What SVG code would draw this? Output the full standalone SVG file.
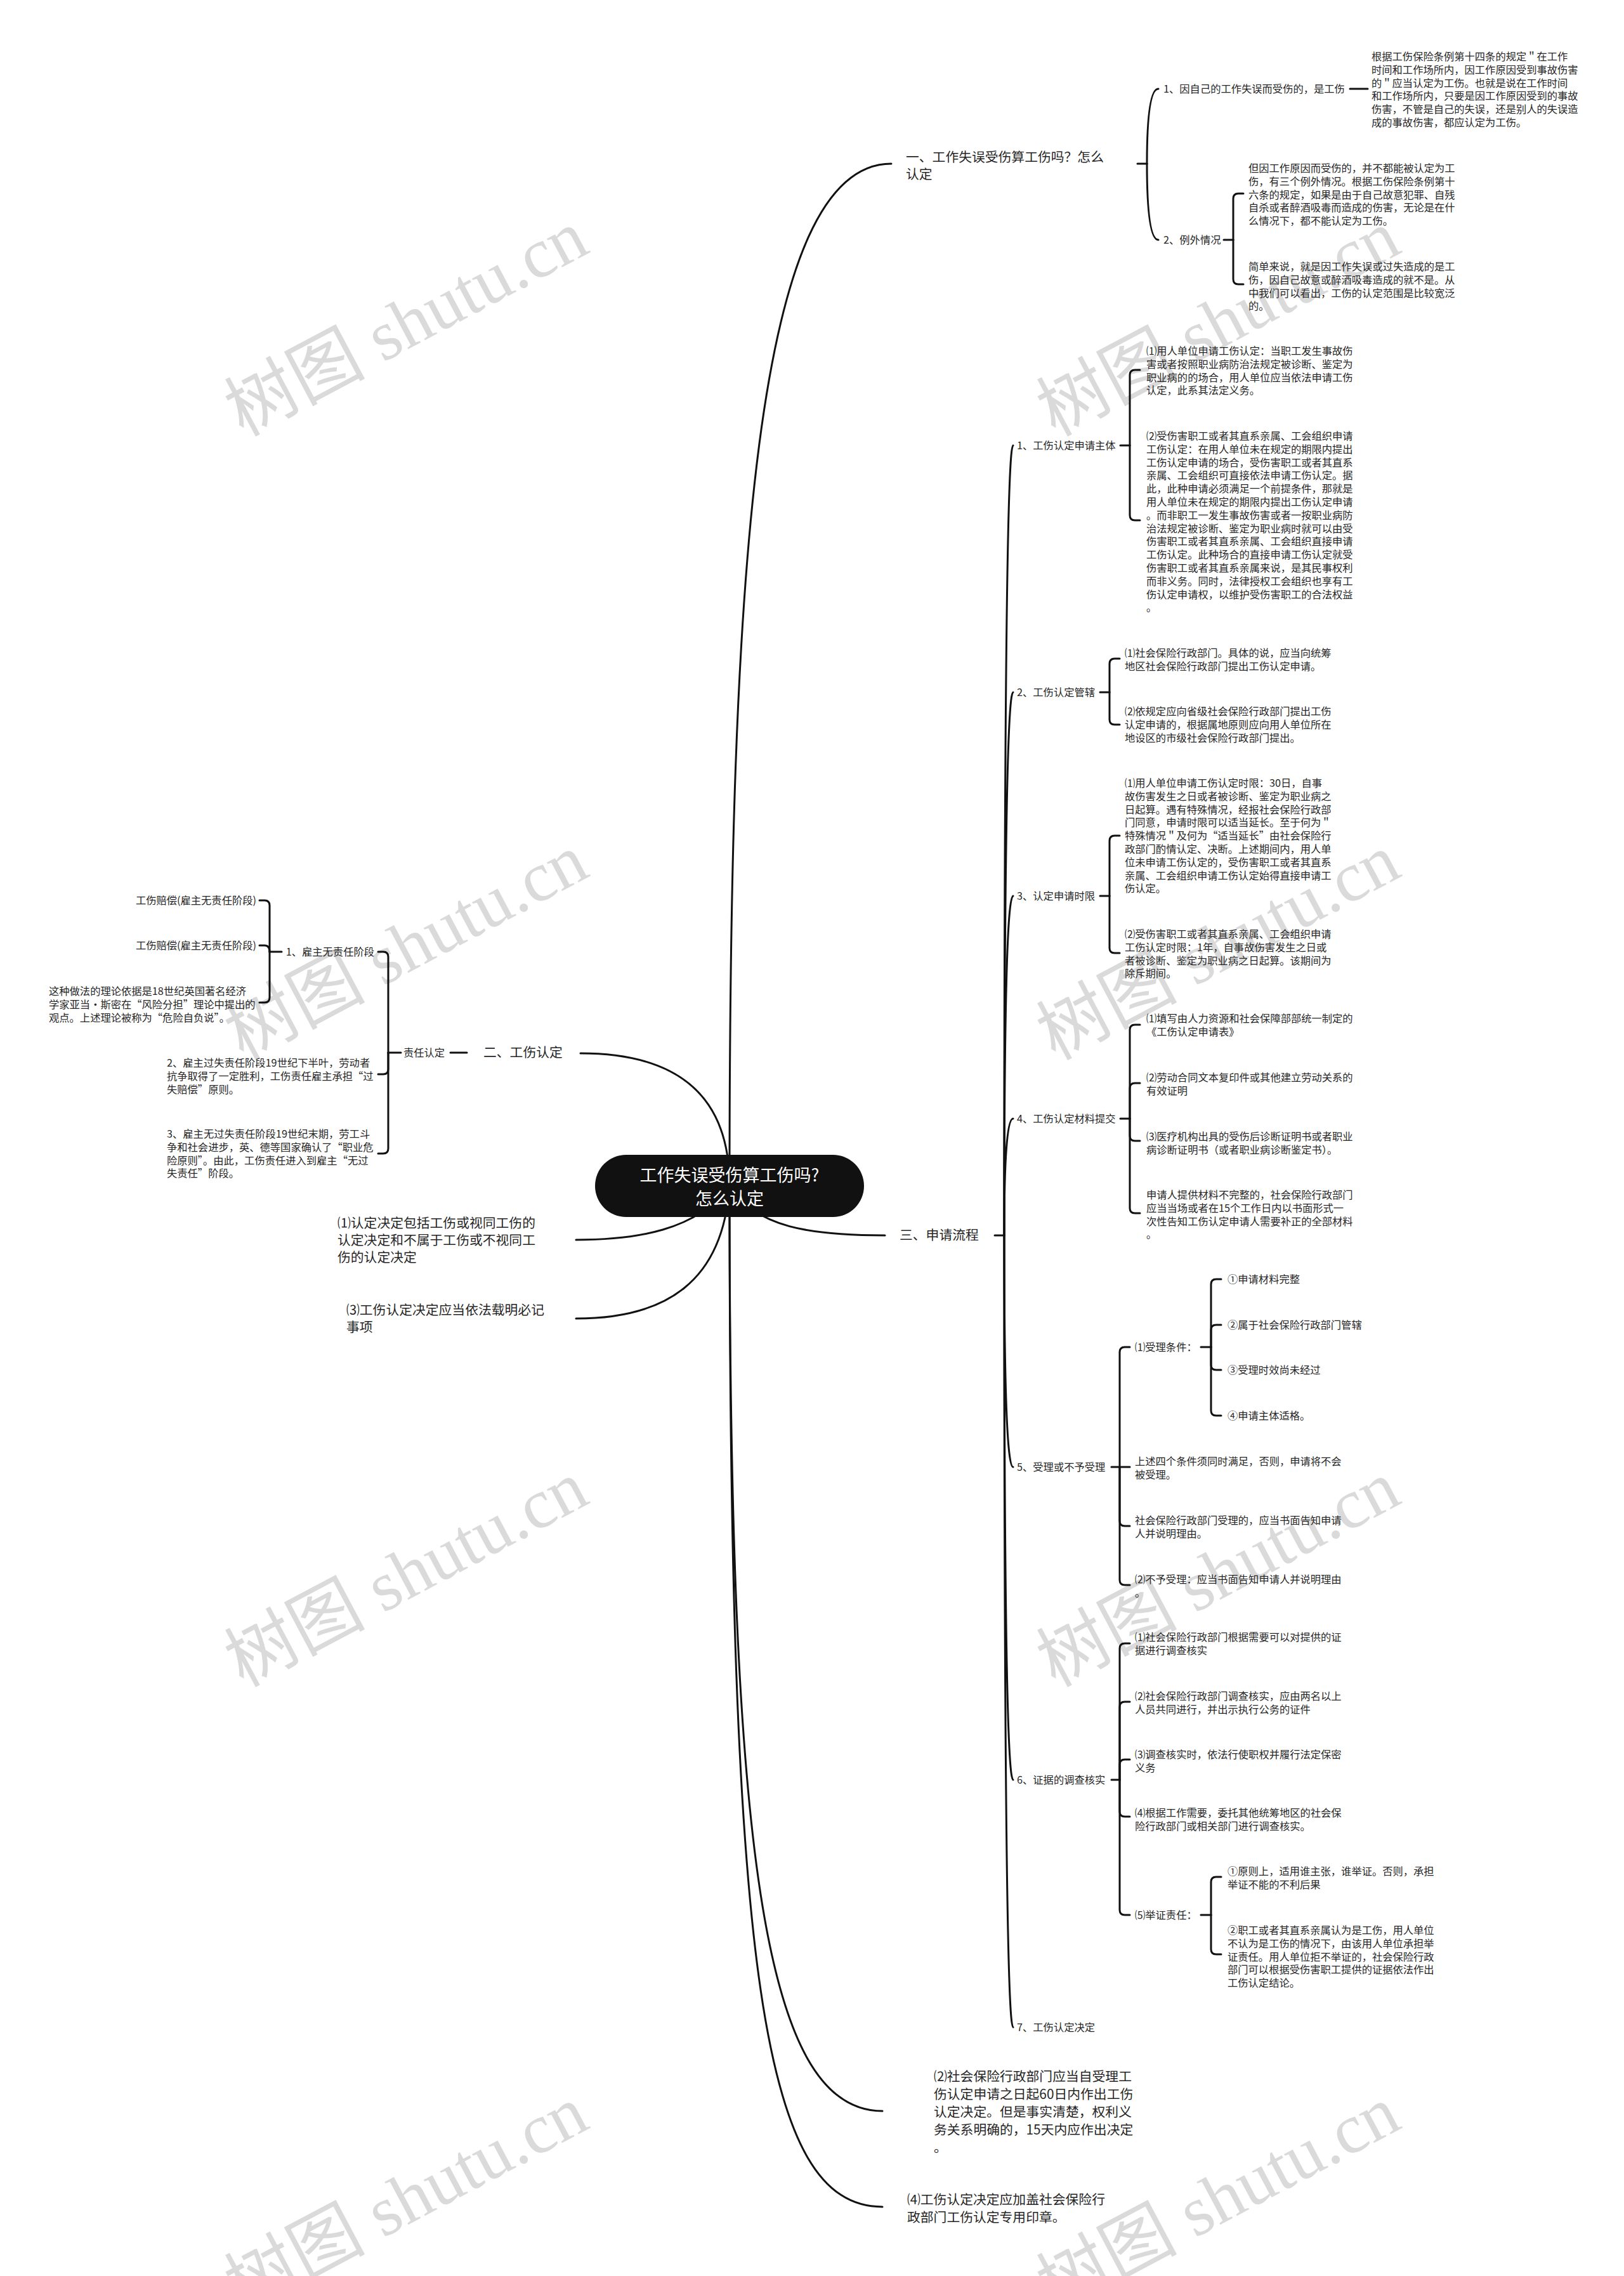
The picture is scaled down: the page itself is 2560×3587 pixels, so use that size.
<svg xmlns="http://www.w3.org/2000/svg" width="2560" height="3587" viewBox="0 0 2560 3587">
<style>
text{font-family:"Noto Sans CJK SC","Noto Sans",sans-serif;fill:#262626}
.s{font-size:16.3px}
.m{font-size:20.8px}
.ct{font-size:27px;fill:#fff}
.ln{fill:none;stroke:#111;stroke-width:3;stroke-linecap:round}
.wm{font-family:"Liberation Serif","Noto Sans CJK SC",serif;font-size:111px;fill:#dadada}
</style>
<rect width="2560" height="3587" fill="#fff"/>
<g id="watermarks">
<text class="wm" text-anchor="middle" transform="translate(640 509) rotate(-28)" y="38">树图 shutu.cn</text>
<text class="wm" text-anchor="middle" transform="translate(1920 509) rotate(-28)" y="38">树图 shutu.cn</text>
<text class="wm" text-anchor="middle" transform="translate(640 1492) rotate(-28)" y="38">树图 shutu.cn</text>
<text class="wm" text-anchor="middle" transform="translate(1920 1492) rotate(-28)" y="38">树图 shutu.cn</text>
<text class="wm" text-anchor="middle" transform="translate(640 2480) rotate(-28)" y="38">树图 shutu.cn</text>
<text class="wm" text-anchor="middle" transform="translate(1920 2480) rotate(-28)" y="38">树图 shutu.cn</text>
<text class="wm" text-anchor="middle" transform="translate(640 3465) rotate(-28)" y="38">树图 shutu.cn</text>
<text class="wm" text-anchor="middle" transform="translate(1920 3465) rotate(-28)" y="38">树图 shutu.cn</text>
</g>
<g id="connectors">
<path class="ln" d="M1150 1868 C1150 900 1190 258 1405 258"/>
<path class="ln" d="M1150 1868 C1150 1720 1060 1660 915 1660"/>
<path class="ln" d="M1150 1868 C1190 1935 1280 1947 1395 1947"/>
<path class="ln" d="M1150 1868 C1100 1940 1000 1954 908 1954"/>
<path class="ln" d="M1150 1868 C1140 2020 1050 2078 908 2078"/>
<path class="ln" d="M1150 1868 C1150 2900 1200 3327 1391 3327"/>
<path class="ln" d="M1150 1868 C1150 3100 1200 3478 1391 3478"/>
<path class="ln" d="M1793 258 H1808"/>
<path class="ln" d="M1808 258 Q1808 140 1826 140"/>
<path class="ln" d="M1808 258 Q1808 378 1826 378"/>
<path class="ln" d="M2128 140 H2156"/>
<path class="ln" d="M1929 378 H1944"/>
<path class="ln" d="M1944 378 V313 Q1944 305 1952 305 H1960"/>
<path class="ln" d="M1944 378 V440 Q1944 448 1952 448 H1960"/>
<path class="ln" d="M1568 1947 H1583"/>
<path class="ln" d="M1583 1947 Q1583 702 1597 702"/>
<path class="ln" d="M1583 1947 Q1583 1091 1597 1091"/>
<path class="ln" d="M1583 1947 Q1583 1412 1597 1412"/>
<path class="ln" d="M1583 1947 Q1583 1763 1597 1763"/>
<path class="ln" d="M1583 1947 Q1583 2312 1597 2312"/>
<path class="ln" d="M1583 1947 Q1583 2805 1597 2805"/>
<path class="ln" d="M1583 1947 Q1583 3195 1597 3195"/>
<path class="ln" d="M1766 702 H1781"/>
<path class="ln" d="M1781 702 V591 Q1781 583 1789 583 H1797"/>
<path class="ln" d="M1781 702 V812 Q1781 820 1789 820 H1797"/>
<path class="ln" d="M1734 1091 H1749"/>
<path class="ln" d="M1749 1091 V1046 Q1749 1038 1757 1038 H1765"/>
<path class="ln" d="M1749 1091 V1134 Q1749 1142 1757 1142 H1765"/>
<path class="ln" d="M1734 1412 H1749"/>
<path class="ln" d="M1749 1412 V1325 Q1749 1317 1757 1317 H1765"/>
<path class="ln" d="M1749 1412 V1494 Q1749 1502 1757 1502 H1765"/>
<path class="ln" d="M1766 1763 H1781"/>
<path class="ln" d="M1781 1763 V1623 Q1781 1615 1789 1615 H1797"/>
<path class="ln" d="M1781 1763 V1715 Q1781 1707 1789 1707 H1797"/>
<path class="ln" d="M1781 1763 V1790 Q1781 1798 1789 1798 H1797"/>
<path class="ln" d="M1781 1763 V1904 Q1781 1912 1789 1912 H1797"/>
<path class="ln" d="M1752 2312 H1765"/>
<path class="ln" d="M1765 2312 V2131 Q1765 2123 1773 2123 H1781"/>
<path class="ln" d="M1765 2312 H1781"/>
<path class="ln" d="M1765 2312 V2397 Q1765 2405 1773 2405 H1781"/>
<path class="ln" d="M1765 2312 V2490 Q1765 2498 1773 2498 H1781"/>
<path class="ln" d="M1893 2123 H1909"/>
<path class="ln" d="M1909 2123 V2024 Q1909 2016 1917 2016 H1925"/>
<path class="ln" d="M1909 2123 V2096 Q1909 2088 1917 2088 H1925"/>
<path class="ln" d="M1909 2123 V2151 Q1909 2159 1917 2159 H1925"/>
<path class="ln" d="M1909 2123 V2223 Q1909 2231 1917 2231 H1925"/>
<path class="ln" d="M1752 2805 H1765"/>
<path class="ln" d="M1765 2805 V2598 Q1765 2590 1773 2590 H1781"/>
<path class="ln" d="M1765 2805 V2690 Q1765 2682 1773 2682 H1781"/>
<path class="ln" d="M1765 2805 V2781 Q1765 2773 1773 2773 H1781"/>
<path class="ln" d="M1765 2805 V2855 Q1765 2863 1773 2863 H1781"/>
<path class="ln" d="M1765 2805 V3010 Q1765 3018 1773 3018 H1781"/>
<path class="ln" d="M1893 3018 H1909"/>
<path class="ln" d="M1909 3018 V2966 Q1909 2958 1917 2958 H1925"/>
<path class="ln" d="M1909 3018 V3072 Q1909 3080 1917 3080 H1925"/>
<path class="ln" d="M736 1659 H710"/>
<path class="ln" d="M632 1659 H612"/>
<path class="ln" d="M612 1659 V1508 Q612 1500 604 1500 H596"/>
<path class="ln" d="M612 1659 V1685 Q612 1693 604 1693 H596"/>
<path class="ln" d="M612 1659 V1810 Q612 1818 604 1818 H596"/>
<path class="ln" d="M444 1500 H425"/>
<path class="ln" d="M425 1500 V1427 Q425 1419 417 1419 H409"/>
<path class="ln" d="M425 1500 Q425 1490 417 1490 H409"/>
<path class="ln" d="M425 1500 V1572 Q425 1580 417 1580 H409"/>
</g>
<g id="center">
<rect x="938" y="1820" width="424" height="98" rx="49" fill="#111"/>
<text class="ct" x="1150" y="1862" text-anchor="middle">工作失误受伤算工伤吗?</text>
<text class="ct" x="1150" y="1899" text-anchor="middle">怎么认定</text>
</g>
<g id="n1">
<text class="m" x="1428" y="255">一、工作失误受伤算工伤吗？怎么<tspan x="1428" dy="27">认定</tspan></text>
</g>
<g id="n1-1"><text class="s" x="1834" y="146">1、因自己的工作失误而受伤的，是工伤</text></g>
<g id="n1-1-a">
<text class="s" x="2162" y="95">根据工伤保险条例第十四条的规定＂在工作<tspan x="2162" dy="20.8">时间和工作场所内，因工作原因受到事故伤害</tspan><tspan x="2162" dy="20.8">的＂应当认定为工伤。也就是说在工作时间</tspan><tspan x="2162" dy="20.8">和工作场所内，只要是因工作原因受到的事故</tspan><tspan x="2162" dy="20.8">伤害，不管是自己的失误，还是别人的失误造</tspan><tspan x="2162" dy="20.8">成的事故伤害，都应认定为工伤。</tspan></text>
</g>
<g id="n1-2"><text class="s" x="1834" y="384">2、例外情况</text></g>
<g id="n1-2-a">
<text class="s" x="1968" y="271">但因工作原因而受伤的，并不都能被认定为工<tspan x="1968" dy="20.8">伤，有三个例外情况。根据工伤保险条例第十</tspan><tspan x="1968" dy="20.8">六条的规定，如果是由于自己故意犯罪、自残</tspan><tspan x="1968" dy="20.8">自杀或者醉酒吸毒而造成的伤害，无论是在什</tspan><tspan x="1968" dy="20.8">么情况下，都不能认定为工伤。</tspan></text>
</g>
<g id="n1-2-b">
<text class="s" x="1968" y="426">简单来说，就是因工作失误或过失造成的是工<tspan x="1968" dy="20.8">伤，因自己故意或醉酒吸毒造成的就不是。从</tspan><tspan x="1968" dy="20.8">中我们可以看出，工伤的认定范围是比较宽泛</tspan><tspan x="1968" dy="20.8">的。</tspan></text>
</g>
<g id="n2"><text class="m" x="762" y="1666">二、工伤认定</text></g>
<g id="n2-1"><text class="s" x="636" y="1665">责任认定</text></g>
<g id="n2-1-1"><text class="s" x="590" y="1506" text-anchor="end">1、雇主无责任阶段</text></g>
<g id="n2-1-1-a"><text class="s" x="404" y="1425" text-anchor="end">工伤赔偿(雇主无责任阶段)</text></g>
<g id="n2-1-1-b"><text class="s" x="404" y="1496" text-anchor="end">工伤赔偿(雇主无责任阶段)</text></g>
<g id="n2-1-1-c">
<text class="s" x="77" y="1568">这种做法的理论依据是18世纪英国著名经济<tspan x="77" dy="20.8">学家亚当·斯密在“风险分担”理论中提出的</tspan><tspan x="77" dy="20.8">观点。上述理论被称为“危险自负说”。</tspan></text>
</g>
<g id="n2-1-2">
<text class="s" x="263" y="1681">2、雇主过失责任阶段19世纪下半叶，劳动者<tspan x="263" dy="20.8">抗争取得了一定胜利，工伤责任雇主承担“过</tspan><tspan x="263" dy="20.8">失赔偿”原则。</tspan></text>
</g>
<g id="n2-1-3">
<text class="s" x="263" y="1793">3、雇主无过失责任阶段19世纪末期，劳工斗<tspan x="263" dy="20.8">争和社会进步，英、德等国家确认了“职业危</tspan><tspan x="263" dy="20.8">险原则”。由此，工伤责任进入到雇主“无过</tspan><tspan x="263" dy="20.8">失责任”阶段。</tspan></text>
</g>
<g id="n4">
<text class="m" x="532" y="1935">⑴认定决定包括工伤或视同工伤的<tspan x="532" dy="27">认定决定和不属于工伤或不视同工</tspan><tspan x="532" dy="27">伤的认定决定</tspan></text>
</g>
<g id="n5">
<text class="m" x="546" y="2072">⑶工伤认定决定应当依法载明必记<tspan x="546" dy="27">事项</tspan></text>
</g>
<g id="n6">
<text class="m" x="1472" y="3280">⑵社会保险行政部门应当自受理工<tspan x="1472" dy="28">伤认定申请之日起60日内作出工伤</tspan><tspan x="1472" dy="28">认定决定。但是事实清楚，权利义</tspan><tspan x="1472" dy="28">务关系明确的，15天内应作出决定</tspan><tspan x="1472" dy="28">。</tspan></text>
</g>
<g id="n7">
<text class="m" x="1430" y="3474">⑷工伤认定决定应加盖社会保险行<tspan x="1430" dy="28">政部门工伤认定专用印章。</tspan></text>
</g>
<g id="n3"><text class="m" x="1418" y="1954">三、申请流程</text></g>
<g id="n3-1"><text class="s" x="1603" y="708">1、工伤认定申请主体</text></g>
<g id="n3-1-a">
<text class="s" x="1807" y="559">⑴用人单位申请工伤认定：当职工发生事故伤<tspan x="1807" dy="20.8">害或者按照职业病防治法规定被诊断、鉴定为</tspan><tspan x="1807" dy="20.8">职业病的的场合，用人单位应当依法申请工伤</tspan><tspan x="1807" dy="20.8">认定，此系其法定义务。</tspan></text>
</g>
<g id="n3-1-b">
<text class="s" x="1807" y="693">⑵受伤害职工或者其直系亲属、工会组织申请<tspan x="1807" dy="20.8">工伤认定：在用人单位未在规定的期限内提出</tspan><tspan x="1807" dy="20.8">工伤认定申请的场合，受伤害职工或者其直系</tspan><tspan x="1807" dy="20.8">亲属、工会组织可直接依法申请工伤认定。据</tspan><tspan x="1807" dy="20.8">此，此种申请必须满足一个前提条件，那就是</tspan><tspan x="1807" dy="20.8">用人单位未在规定的期限内提出工伤认定申请</tspan><tspan x="1807" dy="20.8">。而非职工一发生事故伤害或者一按职业病防</tspan><tspan x="1807" dy="20.8">治法规定被诊断、鉴定为职业病时就可以由受</tspan><tspan x="1807" dy="20.8">伤害职工或者其直系亲属、工会组织直接申请</tspan><tspan x="1807" dy="20.8">工伤认定。此种场合的直接申请工伤认定就受</tspan><tspan x="1807" dy="20.8">伤害职工或者其直系亲属来说，是其民事权利</tspan><tspan x="1807" dy="20.8">而非义务。同时，法律授权工会组织也享有工</tspan><tspan x="1807" dy="20.8">伤认定申请权，以维护受伤害职工的合法权益</tspan><tspan x="1807" dy="20.8">。</tspan></text>
</g>
<g id="n3-2"><text class="s" x="1603" y="1097">2、工伤认定管辖</text></g>
<g id="n3-2-a">
<text class="s" x="1773" y="1035">⑴社会保险行政部门。具体的说，应当向统筹<tspan x="1773" dy="20.8">地区社会保险行政部门提出工伤认定申请。</tspan></text>
</g>
<g id="n3-2-b">
<text class="s" x="1773" y="1127">⑵依规定应向省级社会保险行政部门提出工伤<tspan x="1773" dy="20.8">认定申请的，根据属地原则应向用人单位所在</tspan><tspan x="1773" dy="20.8">地设区的市级社会保险行政部门提出。</tspan></text>
</g>
<g id="n3-3"><text class="s" x="1603" y="1418">3、认定申请时限</text></g>
<g id="n3-3-a">
<text class="s" x="1773" y="1240">⑴用人单位申请工伤认定时限：30日，自事<tspan x="1773" dy="20.8">故伤害发生之日或者被诊断、鉴定为职业病之</tspan><tspan x="1773" dy="20.8">日起算。遇有特殊情况，经报社会保险行政部</tspan><tspan x="1773" dy="20.8">门同意，申请时限可以适当延长。至于何为＂</tspan><tspan x="1773" dy="20.8">特殊情况＂及何为“适当延长”由社会保险行</tspan><tspan x="1773" dy="20.8">政部门酌情认定、决断。上述期间内，用人单</tspan><tspan x="1773" dy="20.8">位未申请工伤认定的，受伤害职工或者其直系</tspan><tspan x="1773" dy="20.8">亲属、工会组织申请工伤认定始得直接申请工</tspan><tspan x="1773" dy="20.8">伤认定。</tspan></text>
</g>
<g id="n3-3-b">
<text class="s" x="1773" y="1478">⑵受伤害职工或者其直系亲属、工会组织申请<tspan x="1773" dy="20.8">工伤认定时限：1年，自事故伤害发生之日或</tspan><tspan x="1773" dy="20.8">者被诊断、鉴定为职业病之日起算。该期间为</tspan><tspan x="1773" dy="20.8">除斥期间。</tspan></text>
</g>
<g id="n3-4"><text class="s" x="1603" y="1769">4、工伤认定材料提交</text></g>
<g id="n3-4-a"><text class="s" x="1807" y="1611">⑴填写由人力资源和社会保障部部统一制定的<tspan x="1807" dy="20.8">《工伤认定申请表》</tspan></text></g>
<g id="n3-4-b"><text class="s" x="1807" y="1704">⑵劳动合同文本复印件或其他建立劳动关系的<tspan x="1807" dy="20.8">有效证明</tspan></text></g>
<g id="n3-4-c"><text class="s" x="1807" y="1797">⑶医疗机构出具的受伤后诊断证明书或者职业<tspan x="1807" dy="20.8">病诊断证明书（或者职业病诊断鉴定书）。</tspan></text></g>
<g id="n3-4-d"><text class="s" x="1807" y="1889">申请人提供材料不完整的，社会保险行政部门<tspan x="1807" dy="20.8">应当当场或者在15个工作日内以书面形式一</tspan><tspan x="1807" dy="20.8">次性告知工伤认定申请人需要补正的全部材料</tspan><tspan x="1807" dy="20.8">。</tspan></text></g>
<g id="n3-5"><text class="s" x="1603" y="2318">5、受理或不予受理</text></g>
<g id="n3-5-a"><text class="s" x="1789" y="2129">⑴受理条件：</text></g>
<g id="n3-5-a1"><text class="s" x="1935" y="2022">①申请材料完整</text></g>
<g id="n3-5-a2"><text class="s" x="1935" y="2094">②属于社会保险行政部门管辖</text></g>
<g id="n3-5-a3"><text class="s" x="1935" y="2165">③受理时效尚未经过</text></g>
<g id="n3-5-a4"><text class="s" x="1935" y="2237">④申请主体适格。</text></g>
<g id="n3-5-b"><text class="s" x="1789" y="2309">上述四个条件须同时满足，否则，申请将不会<tspan x="1789" dy="20.8">被受理。</tspan></text></g>
<g id="n3-5-c"><text class="s" x="1789" y="2402">社会保险行政部门受理的，应当书面告知申请<tspan x="1789" dy="20.8">人并说明理由。</tspan></text></g>
<g id="n3-5-d"><text class="s" x="1789" y="2495">⑵不予受理：应当书面告知申请人并说明理由<tspan x="1789" dy="20.8">。</tspan></text></g>
<g id="n3-6"><text class="s" x="1603" y="2811">6、证据的调查核实</text></g>
<g id="n3-6-a"><text class="s" x="1789" y="2586">⑴社会保险行政部门根据需要可以对提供的证<tspan x="1789" dy="20.8">据进行调查核实</tspan></text></g>
<g id="n3-6-b"><text class="s" x="1789" y="2679">⑵社会保险行政部门调查核实，应由两名以上<tspan x="1789" dy="20.8">人员共同进行，并出示执行公务的证件</tspan></text></g>
<g id="n3-6-c"><text class="s" x="1789" y="2771">⑶调查核实时，依法行使职权并履行法定保密<tspan x="1789" dy="20.8">义务</tspan></text></g>
<g id="n3-6-d"><text class="s" x="1789" y="2863">⑷根据工作需要，委托其他统筹地区的社会保<tspan x="1789" dy="20.8">险行政部门或相关部门进行调查核实。</tspan></text></g>
<g id="n3-6-e"><text class="s" x="1789" y="3024">⑸举证责任：</text></g>
<g id="n3-6-e1"><text class="s" x="1935" y="2955">①原则上，适用谁主张，谁举证。否则，承担<tspan x="1935" dy="20.8">举证不能的不利后果</tspan></text></g>
<g id="n3-6-e2"><text class="s" x="1935" y="3048">②职工或者其直系亲属认为是工伤，用人单位<tspan x="1935" dy="20.8">不认为是工伤的情况下，由该用人单位承担举</tspan><tspan x="1935" dy="20.8">证责任。用人单位拒不举证的，社会保险行政</tspan><tspan x="1935" dy="20.8">部门可以根据受伤害职工提供的证据依法作出</tspan><tspan x="1935" dy="20.8">工伤认定结论。</tspan></text></g>
<g id="n3-7"><text class="s" x="1603" y="3201">7、工伤认定决定</text></g>
</svg>
